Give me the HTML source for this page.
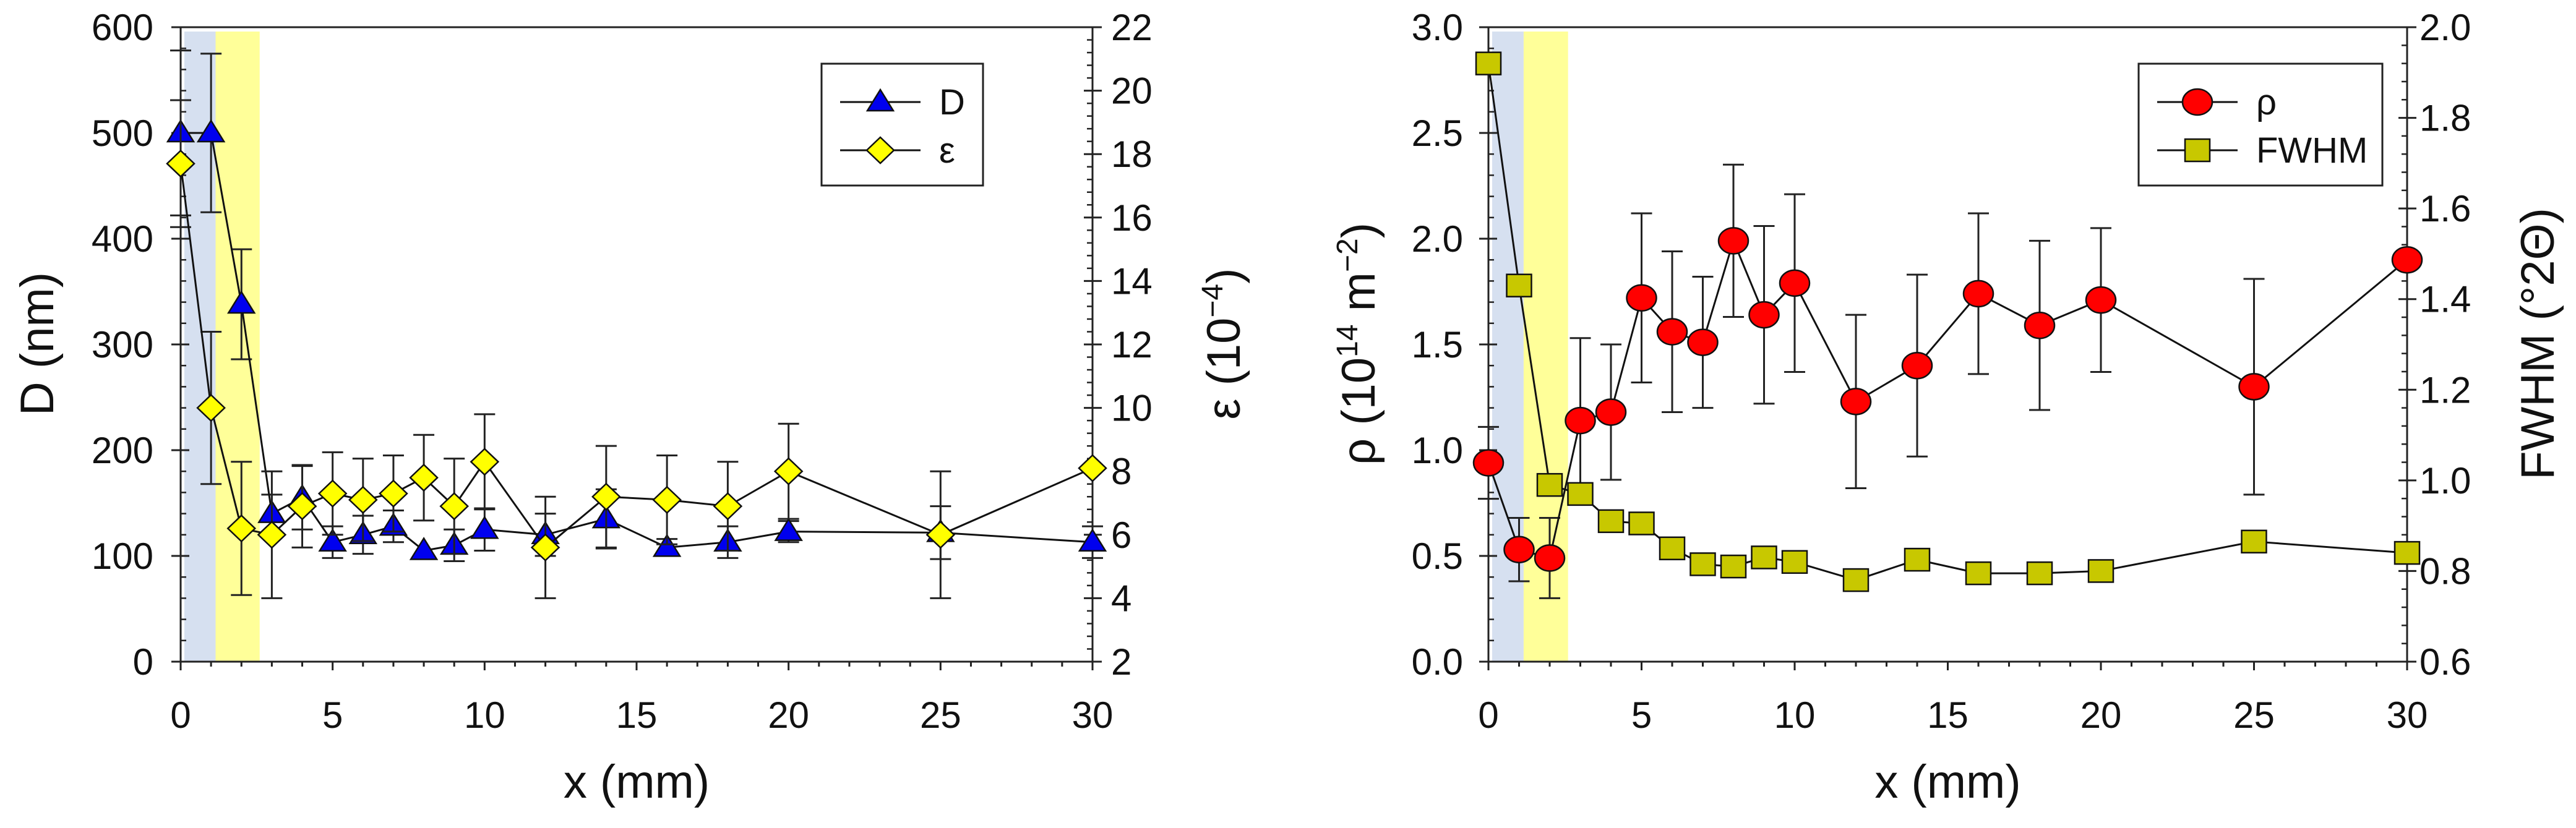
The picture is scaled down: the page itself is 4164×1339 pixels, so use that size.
<!DOCTYPE html>
<html><head><meta charset="utf-8">
<style>
html,body{margin:0;padding:0;background:#fff;}
svg{display:block;}
text{font-family:"Liberation Sans",Arial,sans-serif;fill:#111;}
</style></head>
<body>
<svg id="chart" width="4164" height="1339" viewBox="0 0 4164 1339" xmlns="http://www.w3.org/2000/svg"></svg>
<script>
// ---- data ----
const xVals = [0,1,2,3,4,5,6,7,8,9,10,12,14,16,18,20,25,30];
const dVals = [500,500,338,140,155,113,120,128,105,110,125,120,135,108,113,123,122,113];
const dErr  = [78,75,52,18,30,15,18,15,0,15,20,20,28,8,15,10,25,15];
const epsVals = [17.7,10.0,6.2,6.0,6.9,7.3,7.1,7.3,7.8,6.9,8.3,5.6,7.2,7.1,6.9,8.0,6.0,8.1];
const epsErr  = [2.0,2.4,2.1,2.0,1.3,1.3,1.3,1.2,1.35,1.5,1.5,1.6,1.6,1.4,1.4,1.5,2.0,0];
const rhoVals = [0.94,0.53,0.49,1.14,1.18,1.72,1.56,1.51,1.99,1.64,1.79,1.23,1.40,1.74,1.59,1.71,1.30,1.90];
const rhoErr  = [0.17,0.15,0.19,0.39,0.32,0.40,0.38,0.31,0.36,0.42,0.42,0.41,0.43,0.38,0.40,0.34,0.51,0];
const fwhmVals = [1.92,1.43,0.99,0.97,0.91,0.905,0.85,0.815,0.81,0.83,0.82,0.78,0.825,0.795,0.795,0.80,0.865,0.84];
const xTicks = [0,5,10,15,20,25,30];
const dTicks = [0,100,200,300,400,500,600];
const epsTicks = [2,4,6,8,10,12,14,16,18,20,22];
const rhoTicks = ["0.0","0.5","1.0","1.5","2.0","2.5","3.0"];
const fwhmTicks = ["0.6","0.8","1.0","1.2","1.4","1.6","1.8","2.0"];

const NS="http://www.w3.org/2000/svg";
const svg=document.getElementById('chart');
function mk(tag,attrs,parent){const e=document.createElementNS(NS,tag);for(const k in attrs)e.setAttribute(k,attrs[k]);(parent||svg).appendChild(e);return e;}

function panel(o){
  const g=mk('g',{});
  
  
  const L=o.left,R=o.right,T=44,B=1070;
  const sx=v=>L+(v-0)/30*(R-L);
  const syL=v=>B-(v-o.lmin)/(o.lmax-o.lmin)*(B-T);
  const syR=v=>B-(v-o.rmin)/(o.rmax-o.rmin)*(B-T);
  const b1=mk('rect',{x:L+6,y:51,width:sx(1.15)-L-6,height:B-51,fill:'#d6e0f0'},g);
  
  
  const b2=mk('rect',{x:sx(1.15),y:51,width:sx(2.6)-sx(1.15),height:B-51,fill:'#ffff99'},g);
  
  
  mk('line',{x1:L-15,y1:T,x2:R,y2:T,stroke:'#222','stroke-width':3},g);
  mk('line',{x1:L,y1:T,x2:L,y2:B,stroke:'#222','stroke-width':3},g);
  mk('line',{x1:R,y1:T,x2:R,y2:B,stroke:'#222','stroke-width':3},g);
  mk('line',{x1:L-15,y1:B,x2:R,y2:B,stroke:'#222','stroke-width':3},g);
  for(let v=0;v<=30;v++){
    const maj=v%5===0;
    mk('line',{x1:sx(v),y1:B,x2:sx(v),y2:B+(maj?14:8),stroke:'#222','stroke-width':3},g);
  }
  xTicks.forEach(v=>{const t=mk('text',{x:sx(v),y:1177,'font-size':60,'text-anchor':'middle'},g);t.textContent=v;
    });
  const ln=o.lticks.length;
  for(let i=0;i<ln;i++){
    const v=o.lmin+i*(o.lmax-o.lmin)/(ln-1), y=syL(v);
    mk('line',{x1:L-15,y1:y,x2:L+14,y2:y,stroke:'#222','stroke-width':3},g);
    if(i<ln-1) for(let k=1;k<5;k++){const yy=syL(v+k*(o.lmax-o.lmin)/(ln-1)/5);mk('line',{x1:L,y1:yy,x2:L+9,y2:yy,stroke:'#222','stroke-width':2.5},g);}
    const t=mk('text',{x:o.lLabX,y:y+21,'font-size':60,'text-anchor':'end'},g);t.textContent=o.lticks[i];
    
  }
  const rn=o.rticks.length;
  for(let i=0;i<rn;i++){
    const v=o.rmin+i*(o.rmax-o.rmin)/(rn-1), y=syR(v);
    mk('line',{x1:R-14,y1:y,x2:R+15,y2:y,stroke:'#222','stroke-width':3},g);
    if(i<rn-1) for(let k=1;k<5;k++){const yy=syR(v+k*(o.rmax-o.rmin)/(rn-1)/5);mk('line',{x1:R-9,y1:yy,x2:R,y2:yy,stroke:'#222','stroke-width':2.5},g);}
    const t=mk('text',{x:o.rLabX,y:y+21,'font-size':60,'text-anchor':'start'},g);t.textContent=o.rticks[i];
    
  }
  const xt=mk('text',{x:(L+R)/2,y:1290,'font-size':76,'text-anchor':'middle'},g);xt.textContent='x (mm)';
  
  const lt=mk('text',{x:0,y:0,'font-size':76,'text-anchor':'middle',transform:`translate(${o.lTitleX},556) rotate(-90)`},g);lt.innerHTML=o.lTitle;
  
  const rt=mk('text',{x:0,y:0,'font-size':76,'text-anchor':'middle',transform:`translate(${o.rTitleX},556) rotate(-90)`},g);rt.innerHTML=o.rTitle;
  
  o.series.forEach(s=>{
    const sg=mk('g',{},g);
    
    
    const sy=s.axis==='L'?syL:syR;
    if(s.err) s.vals.forEach((v,i)=>{ if(!s.err[i])return; const x=sx(xVals[i]);
      const y1=sy(v+s.err[i]),y2=sy(v-s.err[i]);
      mk('line',{x1:x,y1:y1,x2:x,y2:y2,stroke:'#222','stroke-width':3},sg);
      mk('line',{x1:x-17,y1:y1,x2:x+17,y2:y1,stroke:'#222','stroke-width':3},sg);
      mk('line',{x1:x-17,y1:y2,x2:x+17,y2:y2,stroke:'#222','stroke-width':3},sg);
    });
    mk('polyline',{points:s.vals.map((v,i)=>sx(xVals[i])+','+sy(v)).join(' '),fill:'none',stroke:'#111','stroke-width':3},sg);
    s.vals.forEach((v,i)=>{const m=marker(s.shape,sx(xVals[i]),sy(v),s.color,sg);
      });
  });
  const lg=mk('g',{},g);
  
  
  mk('rect',{x:o.leg[0],y:103,width:o.leg[1],height:197,fill:'#fff',stroke:'#222','stroke-width':3},lg);
  o.series.forEach((s,i)=>{const y=[165,243][i];
    const e=mk('g',{},lg);
    
    
    mk('line',{x1:o.leg[0]+30,y1:y,x2:o.leg[0]+160,y2:y,stroke:'#111','stroke-width':3},e);
    marker(s.shape,o.leg[0]+95,y,s.color,e);
    const t=mk('text',{x:o.leg[0]+190,y:y+20,'font-size':58},e);t.textContent=s.label;
  });
}
function marker(shape,x,y,c,p){
  if(shape==='tri') return mk('polygon',{points:`${x},${y-20} ${x+21},${y+14} ${x-21},${y+14}`,fill:c,stroke:'#111','stroke-width':2.5},p);
  if(shape==='dia') return mk('polygon',{points:`${x},${y-21} ${x+22},${y} ${x},${y+21} ${x-22},${y}`,fill:c,stroke:'#111','stroke-width':2.5},p);
  if(shape==='circ') return mk('ellipse',{cx:x,cy:y,rx:24,ry:21,fill:c,stroke:'#111','stroke-width':2.5},p);
  return mk('rect',{x:x-20,y:y-18,width:40,height:36,fill:c,stroke:'#111','stroke-width':2.5},p);
}

panel({name:'left-panel',left:292,right:1766,lmin:0,lmax:600,rmin:2,rmax:22,
  lticks:dTicks,rticks:epsTicks,lLabX:248,rLabX:1796,
  lTitle:'D (nm)',rTitle:'ε (10<tspan dy="-28" font-size="48">−4</tspan><tspan dy="28">)</tspan>',lTitleX:86,rTitleX:2004,
  leg:[1328,261],
  series:[{name:'d',label:'D',shape:'tri',color:'#0000ee',axis:'L',vals:dVals,err:dErr},
          {name:'epsilon',label:'ε',shape:'dia',color:'#ffff00',axis:'R',vals:epsVals,err:epsErr}]});
panel({name:'right-panel',left:2406,right:3891,lmin:0,lmax:3,rmin:0.6,rmax:2.0,
  lticks:rhoTicks,rticks:fwhmTicks,lLabX:2365,rLabX:3911,
  lTitle:'ρ (10<tspan dy="-28" font-size="48">14</tspan><tspan dy="28"> m</tspan><tspan dy="-28" font-size="48">−2</tspan><tspan dy="28">)</tspan>',
  rTitle:'FWHM (°2Θ)',lTitleX:2222,rTitleX:4128,
  leg:[3457,394],
  series:[{name:'rho',label:'ρ',shape:'circ',color:'#ff0000',axis:'L',vals:rhoVals,err:rhoErr},
          {name:'fwhm',label:'FWHM',shape:'sq',color:'#c8c800',axis:'R',vals:fwhmVals,err:null}]});
</script>
</body></html>
